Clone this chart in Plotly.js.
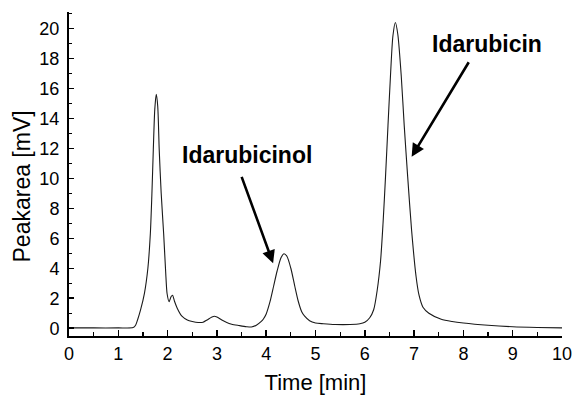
<!DOCTYPE html>
<html>
<head>
<meta charset="utf-8">
<script src="https://cdn.plot.ly/plotly-3.0.1.min.js"></script>
<style>html,body{margin:0;padding:0;background:#fff;}#chart{width:579px;height:395px;}</style>
</head>
<body>
<div id="chart"></div>
<script>
// Chromatogram
var timeMin = [0, 0.5, 1.0, 1.30, 1.35, 1.39, 1.45, 1.53, 1.60, 1.65, 1.68, 1.71, 1.74, 1.77, 1.80, 1.83, 1.87, 1.92, 1.96, 1.99, 2.03, 2.07, 2.10, 2.14, 2.20, 2.29, 2.40, 2.50, 2.62, 2.72, 2.80, 2.90, 2.95, 3.00, 3.10, 3.20, 3.30, 3.45, 3.60, 3.70, 3.80, 3.90, 3.94, 4.00, 4.08, 4.15, 4.22, 4.30, 4.36, 4.42, 4.50, 4.58, 4.65, 4.72, 4.78, 4.88, 5.00, 5.16, 5.40, 5.70, 5.90, 6.00, 6.10, 6.18, 6.25, 6.32, 6.37, 6.42, 6.47, 6.52, 6.57, 6.62, 6.67, 6.74, 6.80, 6.87, 6.95, 7.04, 7.10, 7.18, 7.30, 7.55, 7.77, 8.00, 8.50, 9.00, 9.50, 10.0];
var peakArea = [0.02, 0.02, 0.02, 0.04, 0.2, 0.55, 1.2, 2.33, 4.0, 6.3, 8.8, 11.9, 14.6, 15.6, 14.8, 11.9, 9.0, 6.3, 3.8, 2.3, 1.77, 2.1, 2.2, 1.8, 1.3, 0.8, 0.55, 0.45, 0.38, 0.4, 0.55, 0.75, 0.8, 0.75, 0.55, 0.38, 0.27, 0.18, 0.1, 0.08, 0.2, 0.45, 0.6, 0.95, 1.8, 2.8, 3.8, 4.7, 4.97, 4.8, 4.0, 2.8, 1.8, 1.1, 0.8, 0.5, 0.35, 0.3, 0.25, 0.25, 0.3, 0.4, 0.7, 1.23, 2.5, 4.5, 7.0, 10.1, 13.5, 16.8, 19.5, 20.4, 19.6, 16.8, 13.5, 10.1, 6.5, 3.45, 2.2, 1.4, 1.0, 0.6, 0.45, 0.35, 0.2, 0.1, 0.05, 0.02];

var peakLabels = ["Idarubicinol", "Idarubicin"];
var xTitle = "Time [min]";
var yTitle = "Peakarea [mV]";

var FONT = "Liberation Sans, Arial, Helvetica, sans-serif";

var trace = {
  x: timeMin,
  y: peakArea,
  type: "scatter",
  mode: "lines",
  line: {color: "#1a1a1a", width: 1.1, shape: "spline", smoothing: 0.7},
  hoverinfo: "skip",
  showlegend: false
};

var layout = {
  width: 579,
  height: 395,
  margin: {l: 69, r: 17, t: 12, b: 59},
  paper_bgcolor: "#ffffff",
  plot_bgcolor: "#ffffff",
  font: {family: FONT, color: "#000000", size: 18},
  showlegend: false,
  xaxis: {
    range: [0, 10],
    autorange: false,
    dtick: 1,
    tick0: 0,
    ticks: "inside",
    ticklen: 6,
    tickwidth: 1.5,
    tickcolor: "#000",
    minor: {dtick: 0.5, ticks: "inside", ticklen: 4, tickwidth: 1.2, tickcolor: "#000"},
    showline: true,
    linecolor: "#000",
    linewidth: 2,
    showgrid: false,
    zeroline: false,
    tickfont: {family: FONT, size: 18, color: "#000"},
    title: {text: xTitle, font: {family: FONT, size: 22, color: "#000"}, standoff: 13},
    automargin: false
  },
  yaxis: {
    range: [-0.52, 21.1],
    autorange: false,
    dtick: 2,
    tick0: 0,
    ticks: "inside",
    ticklen: 5,
    tickwidth: 1.5,
    tickcolor: "#000",
    minor: {dtick: 1, ticks: "inside", ticklen: 3, tickwidth: 1.2, tickcolor: "#000"},
    showline: true,
    linecolor: "#000",
    linewidth: 2,
    showgrid: false,
    zeroline: false,
    ticklabelstandoff: 4,
    tickfont: {family: FONT, size: 18, color: "#000"},
    automargin: false
  },
  annotations: [
    {x: -0.095, y: 0.462, xref: "paper", yref: "paper", text: yTitle, textangle: -90, showarrow: false,
     font: {family: FONT, size: 23, color: "#000"}, xanchor: "center", yanchor: "middle"},
    {x: 3.62, y: 11.55, xref: "x", yref: "y", text: "<b>" + peakLabels[0] + "</b>", showarrow: false,
     font: {family: FONT, size: 23, color: "#000"}, xanchor: "center", yanchor: "middle"},
    {x: 8.48, y: 18.95, xref: "x", yref: "y", text: "<b>" + peakLabels[1] + "</b>", showarrow: false,
     font: {family: FONT, size: 23, color: "#000"}, xanchor: "center", yanchor: "middle"},
    {x: 4.14, y: 4.33, xref: "x", yref: "y", text: "", showarrow: true, arrowhead: 2, arrowsize: 1,
     arrowwidth: 2.6, arrowcolor: "#000", ax: -32, ay: -88, standoff: 0, startstandoff: 0},
    {x: 6.95, y: 11.44, xref: "x", yref: "y", text: "", showarrow: true, arrowhead: 2, arrowsize: 1,
     arrowwidth: 2.6, arrowcolor: "#000", ax: 58, ay: -96, standoff: 0, startstandoff: 0}
  ]
};

Plotly.newPlot("chart", [trace], layout, {staticPlot: true, displayModeBar: false});
</script>
</body>
</html>
